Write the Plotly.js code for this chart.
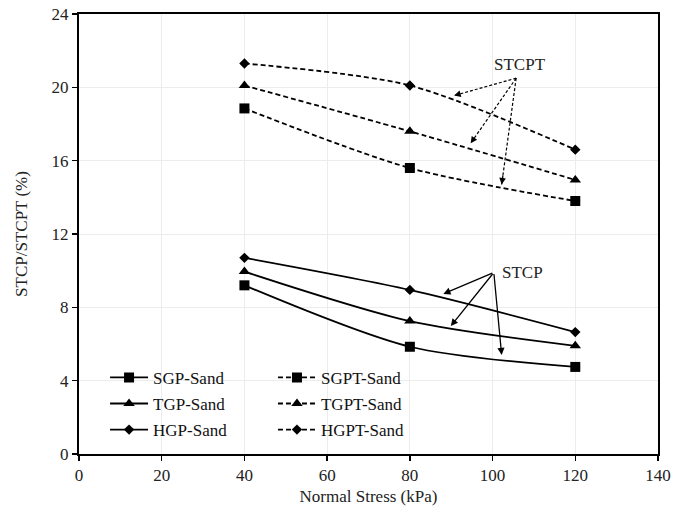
<!DOCTYPE html>
<html>
<head>
<meta charset="utf-8">
<script src="https://cdn.plot.ly/plotly-3.0.1.min.js"></script>
<style>html,body{margin:0;padding:0;background:#fff;}#chart{width:689px;height:508px;}</style>
</head>
<body>
<div id="chart"></div>
<script>
// Data
const normalStress = [40, 80, 120];
const SGP_Sand  = [9.2, 5.85, 4.75];
const TGP_Sand  = [9.95, 7.25, 5.9];
const HGP_Sand  = [10.7, 8.95, 6.65];
const SGPT_Sand = [18.85, 15.6, 13.8];
const TGPT_Sand = [20.1, 17.6, 14.95];
const HGPT_Sand = [21.3, 20.1, 16.6];

const seriesNames = ["SGP-Sand","TGP-Sand","HGP-Sand","SGPT-Sand","TGPT-Sand","HGPT-Sand"];
const seriesValues = [SGP_Sand, TGP_Sand, HGP_Sand, SGPT_Sand, TGPT_Sand, HGPT_Sand];
const symbols = ["square","triangle-up","diamond","square","triangle-up","diamond"];
const symSizes = [10, 10, 8, 10, 10, 8];

const font = "Liberation Serif";

const traces = seriesValues.map((vals, i) => ({
  x: normalStress,
  y: vals,
  name: seriesNames[i],
  type: "scatter",
  mode: "lines+markers",
  line: {color: "#000", width: 1.8, shape: "spline", smoothing: 0.8, dash: i < 3 ? "solid" : "5px,3px"},
  marker: {symbol: symbols[i], size: symSizes[i], color: "#000"},
  legend: i < 3 ? "legend" : "legend2",
  legendgroup: "g" + i
}));

// annotation arrows (tail -> heads), data coordinates
const stcptTail = [105.7, 20.5];
const stcptHeads = [[90.7, 19.55], [94.7, 16.95], [102.2, 14.7]];
const stcpTail = [100.3, 9.9];
const stcpHeads = [[88.1, 8.73], [89.9, 6.98], [102.2, 5.4]];

const shapes = [];
const annotations = [];
stcptHeads.forEach(h => {
  shapes.push({type: "line", xref: "x", yref: "y", x0: stcptTail[0], y0: stcptTail[1], x1: h[0], y1: h[1],
               line: {color: "#000", width: 1.2, dash: "3px,2px"}});
  const dx = stcptTail[0] - h[0], dy = stcptTail[1] - h[1];
  annotations.push({x: h[0], y: h[1], ax: h[0] + dx * 0.1, ay: h[1] + dy * 0.1, axref: "x", ayref: "y",
                    xref: "x", yref: "y", text: "", showarrow: true, arrowhead: 2, arrowsize: 1.1, arrowwidth: 1.2, arrowcolor: "#000"});
});
stcpHeads.forEach(h => {
  annotations.push({x: h[0], y: h[1], ax: stcpTail[0], ay: stcpTail[1], axref: "x", ayref: "y",
                    xref: "x", yref: "y", text: "", showarrow: true, arrowhead: 2, arrowsize: 1.1, arrowwidth: 1.3, arrowcolor: "#000"});
});
annotations.push({x: 106.6, y: 21.26, xref: "x", yref: "y", text: "STCPT", showarrow: false,
                  font: {family: font, size: 17, color: "#222"}});
annotations.push({x: 107.2, y: 9.9, xref: "x", yref: "y", text: "STCP", showarrow: false,
                  font: {family: font, size: 17, color: "#222"}});

const legendCommon = {
  bgcolor: "rgba(255,255,255,0)",
  font: {family: font, size: 17, color: "#111"},
  yanchor: "bottom",
  y: 0.014,
  tracegroupgap: 1,
  itemwidth: 38
};

const layout = {
  width: 689,
  height: 508,
  margin: {l: 79, r: 31, t: 14, b: 54},
  paper_bgcolor: "#fff",
  plot_bgcolor: "#fff",
  font: {family: font, size: 17, color: "#222"},
  xaxis: {
    range: [0, 140], dtick: 20, tick0: 0,
    showline: true, linecolor: "#000", linewidth: 2, mirror: true,
    ticks: "outside", ticklen: 5, tickcolor: "#000", tickwidth: 1.5,
    showgrid: true, gridcolor: "#ececec", gridwidth: 1, zeroline: false,
    tickfont: {family: font, size: 17, color: "#222"},
    title: {text: "Normal Stress (kPa)", font: {family: font, size: 17, color: "#222"}, standoff: 6}
  },
  yaxis: {
    range: [0, 24], dtick: 4, tick0: 0,
    showline: true, linecolor: "#000", linewidth: 2, mirror: true,
    ticks: "outside", ticklen: 5, tickcolor: "#000", tickwidth: 1.5,
    showgrid: true, gridcolor: "#ececec", gridwidth: 1, zeroline: false,
    tickfont: {family: font, size: 17, color: "#222"},
    title: {text: "STCP/STCPT (%)", font: {family: font, size: 17, color: "#222"}, standoff: 20}
  },
  legend: Object.assign({}, legendCommon, {x: 0.045, xanchor: "left"}),
  legend2: Object.assign({}, legendCommon, {x: 0.335, xanchor: "left"}),
  shapes: shapes,
  annotations: annotations,
  showlegend: true
};

Plotly.newPlot("chart", traces, layout, {displayModeBar: false, staticPlot: true});
</script>
</body>
</html>
